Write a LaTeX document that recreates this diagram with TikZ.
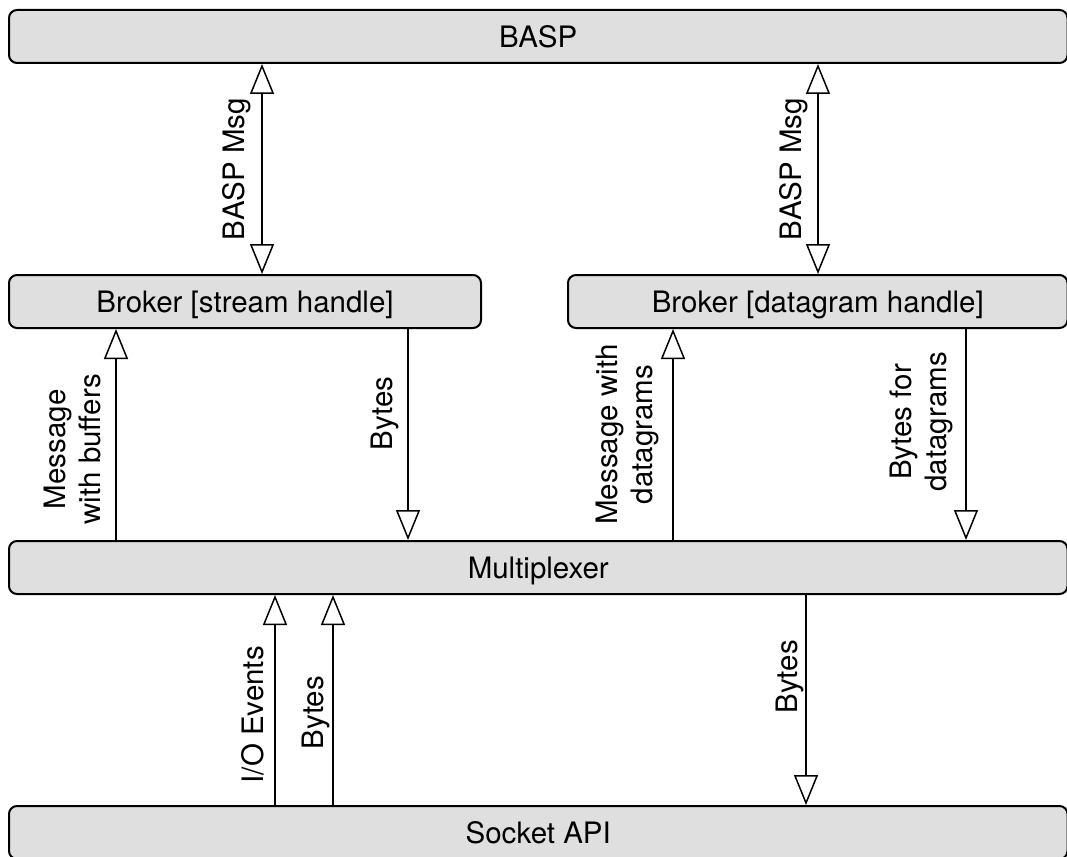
\documentclass[tikz,border=0pt]{standalone}
\usepackage{fontspec}
\setmainfont{TeX Gyre Heros}
\usetikzlibrary{arrows.meta}
\definecolor{layerfill}{RGB}{223,223,223}
\begin{document}
\begin{tikzpicture}[x=1pt,y=-1pt,
  txt/.style={font=\fontsize{29.5}{35.5}\selectfont},
  layer/.style={txt, draw=black, line width=2pt, fill=layerfill, rounded corners=8pt,
    anchor=north west, inner sep=0pt, minimum height=53pt, text height=22pt, text depth=0pt},
  tip/.tip={Triangle[open,length=30pt,width=24pt]},
  flow/.style={line width=1.5pt, -tip},
  flowboth/.style={line width=1.5pt, tip-tip},
  lbl/.style={txt, rotate=90, anchor=south, inner xsep=0pt, align=center}
]
\useasboundingbox (0,0) rectangle (1067,856);
\clip (0,0) rectangle (1067,856);

% layers
\node[layer, minimum width=1058.5pt] (basp) at (8,9)   {BASP};
\node[layer, minimum width=472pt]    (bs)   at (8,274) {Broker [stream handle]};
\node[layer, minimum width=499.5pt]  (bd)   at (567,274) {Broker [datagram handle]};
\node[layer, minimum width=1058.5pt] (mux)  at (8,540) {Multiplexer};
\node[layer, minimum width=1058.5pt] (sock) at (8,805) {Socket API};

% x positions of the connectors
\coordinate (xa) at (262,0);
\coordinate (xb) at (818,0);
\coordinate (xc) at (116,0);
\coordinate (xd) at (408,0);
\coordinate (xe) at (673,0);
\coordinate (xf) at (966,0);
\coordinate (xg) at (275,0);
\coordinate (xh) at (333,0);
\coordinate (xi) at (806,0);

% BASP <-> brokers
\draw[flowboth] (basp.south -| xa) -- (bs.north -| xa)
  node[lbl, pos=0.5, inner ysep=10pt] {BASP Msg};
\draw[flowboth] (basp.south -| xb) -- (bd.north -| xb)
  node[lbl, pos=0.5, inner ysep=9pt] {BASP Msg};

% brokers <-> multiplexer
\draw[flow] (mux.north -| xc) -- (bs.south -| xc)
  node[lbl, pos=0.43, inner ysep=14pt] {Message\\with buffers};
\draw[flow] (bs.south -| xd) -- (mux.north -| xd)
  node[lbl, pos=0.40, inner ysep=8pt] {Bytes};
\draw[flow] (mux.north -| xe) -- (bd.south -| xe)
  node[lbl, pos=0.50, inner ysep=13pt] {Message with\\datagrams};
\draw[flow] (bd.south -| xf) -- (mux.north -| xf)
  node[lbl, pos=0.44, inner ysep=12pt] {Bytes for\\datagrams};

% multiplexer <-> socket API
\draw[flow] (sock.north -| xg) -- (mux.south -| xg)
  node[lbl, pos=0.43, inner ysep=10pt] {I/O Events};
\draw[flow] (sock.north -| xh) -- (mux.south -| xh)
  node[lbl, pos=0.44, inner ysep=2.5pt] {Bytes};
\draw[flow] (mux.south -| xi) -- (sock.north -| xi)
  node[lbl, pos=0.39, inner ysep=1.5pt] {Bytes};
\end{tikzpicture}
\end{document}
